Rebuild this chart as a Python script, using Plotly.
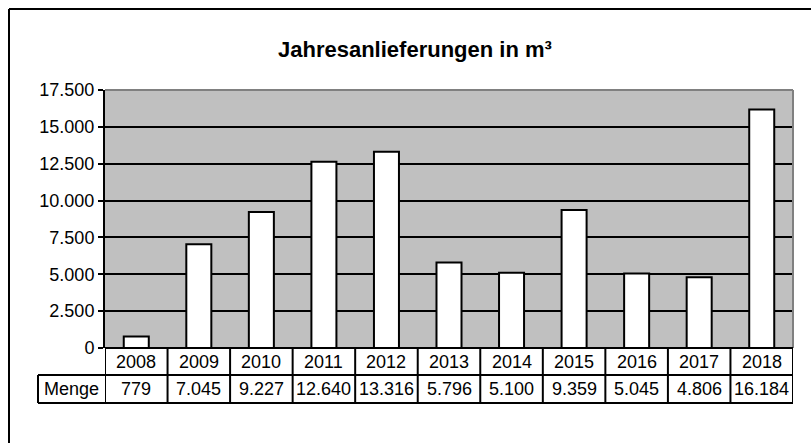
import plotly.graph_objects as go

years = ['2008', '2009', '2010', '2011', '2012', '2013', '2014', '2015', '2016', '2017', '2018']
menge = [779, 7045, 9227, 12640, 13316, 5796, 5100, 9359, 5045, 4806, 16184]
y_ticks = [0, 2500, 5000, 7500, 10000, 12500, 15000, 17500]


def de_num(v):
    """German thousands separator."""
    return f'{v:,}'.replace(',', '.')


FONT = 'Liberation Sans, Arial, sans-serif'

W, H = 811, 443
PL, PT, PR, PB = 105, 90, 793, 348   # plot area in screen pixels
PW, PH = PR - PL, PB - PT


def px_x(x):
    return (x - PL) / PW


def px_y(y):
    return (PB - y) / PH


menge_left = px_x(38)
row1_bot = px_y(375)
row2_bot = px_y(403)

fig = go.Figure()
fig.add_trace(go.Bar(
    x=list(range(len(years))), y=menge,
    width=0.4,
    marker=dict(color='white', line=dict(color='black', width=2)),
    hoverinfo='skip'
))

black2 = dict(color='black', width=2)
shapes = []
# outer chart border (only top and left edges are inside the picture)
shapes.append(dict(type='line', xref='paper', yref='paper',
                   x0=px_x(9), x1=px_x(830), y0=px_y(9), y1=px_y(9), line=black2))
shapes.append(dict(type='line', xref='paper', yref='paper',
                   x0=px_x(9), x1=px_x(9), y0=px_y(9), y1=px_y(460), line=black2))
# plot area border (top/right grey)
shapes.append(dict(type='line', xref='paper', yref='paper', x0=0, x1=1, y0=1, y1=1,
                   line=dict(color='#808080', width=2)))
shapes.append(dict(type='line', xref='paper', yref='paper', x0=1, x1=1, y0=0, y1=1,
                   line=dict(color='#808080', width=2)))
# table: vertical cell borders
for i in range(len(years) + 1):
    shapes.append(dict(type='line', xref='x', yref='paper', x0=i - 0.5, x1=i - 0.5,
                       y0=row2_bot, y1=0, line=black2))
shapes.append(dict(type='line', xref='paper', yref='paper', x0=menge_left, x1=menge_left,
                   y0=row2_bot, y1=row1_bot, line=black2))
# table: horizontal borders
shapes.append(dict(type='line', xref='paper', yref='paper', x0=0, x1=1, y0=0, y1=0, line=black2))
for yy in (row1_bot, row2_bot):
    shapes.append(dict(type='line', xref='paper', yref='paper', x0=menge_left, x1=1, y0=yy, y1=yy,
                       line=black2))

cell_font = dict(size=18, color='black', family=FONT)
annotations = []
for i, (yr, v) in enumerate(zip(years, menge)):
    annotations.append(dict(x=i, y=row1_bot / 2, xref='x', yref='paper', text=yr,
                            xanchor='center', yanchor='middle', showarrow=False, font=cell_font))
    annotations.append(dict(x=i, y=(row1_bot + row2_bot) / 2, xref='x', yref='paper', text=de_num(v),
                            xanchor='center', yanchor='middle', showarrow=False, font=cell_font))
annotations.append(dict(x=menge_left / 2, y=(row1_bot + row2_bot) / 2, xref='paper', yref='paper',
                        text='Menge', xanchor='center', yanchor='middle', showarrow=False, font=cell_font))
annotations.append(dict(x=px_x(415), y=px_y(50), xref='paper', yref='paper',
                        text='<b>Jahresanlieferungen in m³</b>', xanchor='center', yanchor='middle',
                        showarrow=False, font=dict(size=22, color='black', family=FONT)))

fig.update_layout(
    width=W, height=H,
    margin=dict(l=PL, r=W - PR, t=PT, b=H - PB),
    paper_bgcolor='white', plot_bgcolor='#C0C0C0',
    separators=',.',
    showlegend=False,
    shapes=shapes, annotations=annotations,
    font=dict(family=FONT, color='black'),
)
fig.update_xaxes(range=[-0.5, len(years) - 0.5], showticklabels=False, showgrid=False,
                 zeroline=False, showline=False, ticks='')
fig.update_yaxes(range=[0, 17500], tickvals=y_ticks, tickformat=',d',
                 showgrid=True, gridcolor='black', gridwidth=2,
                 zeroline=False, showline=True, linecolor='black', linewidth=2,
                 ticks='outside', ticklen=5, tickcolor='black', tickwidth=2,
                 tickfont=dict(size=18, color='black', family=FONT))

# figure fills the window exactly: no page margin, no scrollbars, no modebar
fig.write_html('out.html', config={'displayModeBar': False},
               post_script="document.body.style.margin='0';"
                           "document.documentElement.style.overflow='hidden';"
                           "document.body.style.overflow='hidden';")
